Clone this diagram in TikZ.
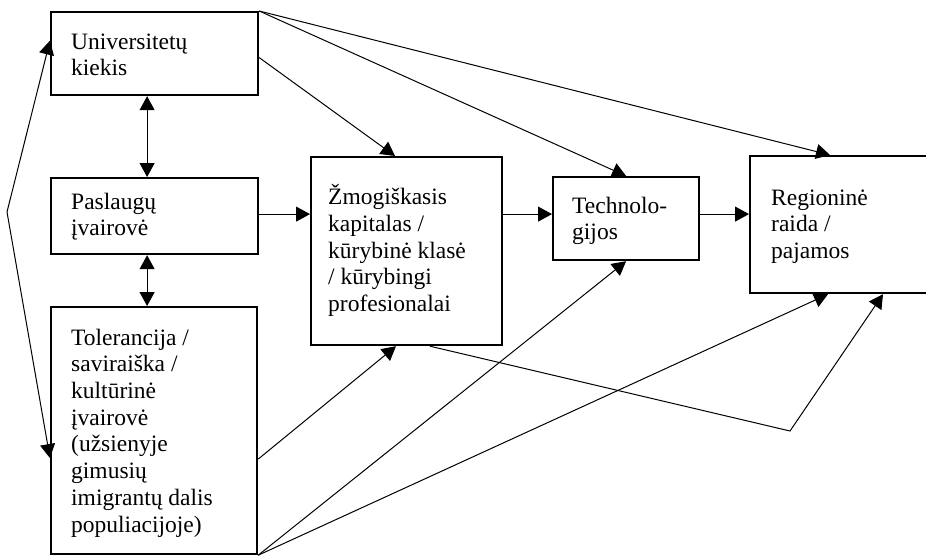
\documentclass[tikz,border=0pt]{standalone}
\usepackage{fontspec}
\setmainfont{Liberation Serif}
\usetikzlibrary{arrows.meta}
\tikzset{
  box/.style={draw, line width=2.2pt, inner sep=0pt, anchor=north west},
  txt/.style={inner sep=0pt, align=left, anchor=north west,
    font=\fontsize{23.5}{26.7}\selectfont},
  tip/.tip={Triangle[length=14pt,width=15pt]},
  arr/.style={line width=1pt, -tip},
  darr/.style={line width=1pt, tip-tip}
}
\begin{document}
\begin{tikzpicture}[x=1pt,y=-1pt]
\useasboundingbox (0,0) rectangle (926,555);
\clip (0,0) rectangle (926,555);
% boxes
\node[box, minimum width=207pt, minimum height=83pt] (b1) at (50,11) {};
\node[box, minimum width=207pt, minimum height=76pt] (b2) at (50,177) {};
\node[box, minimum width=206pt, minimum height=247pt] (b3) at (50,306) {};
\node[box, minimum width=191pt, minimum height=188pt] (b4) at (310,156) {};
\node[box, minimum width=146pt, minimum height=83pt] (b5) at (552,176) {};
\node[box, minimum width=200pt, minimum height=137pt] (b6) at (749,155) {};
% texts (first baseline = y + 18.7)
\node[txt] (t1) at (71,30.3) {\strut Universitetų\\kiekis};
\node[txt] (t2) at (71,190.3) {\strut Paslaugų\\įvairovė};
\node[txt] (t3) at (71,326.3) {\strut Tolerancija /\\saviraiška /\\kultūrinė\\įvairovė\\(užsienyje\\gimusių\\imigrantų dalis\\populiacijoje)};
\node[txt] (t4) at (328,184.3) {\strut Žmogiškasis\\kapitalas /\\kūrybinė klasė\\/ kūrybingi\\profesionalai};
\node[txt] (t5) at (572,194.3) {\strut Technolo-\\gijos};
\node[txt] (t6) at (771,186.3) {\strut Regioninė\\raida /\\pajamos};
% left bracket
\coordinate (L) at (7,212);
\draw[arr] (L) -- ([shift={(0,-13)}]b1.west);
\draw[arr] (L) -- ([shift={(0,27.5)}]b3.west);
% vertical double arrows
\draw[darr] ([shift={(-7.5,0)}]b1.south) -- ([shift={(-7.5,0)}]b2.north);
\draw[darr] ([shift={(-7.5,0)}]b2.south) -- ([shift={(-7,0)}]b3.north);
% horizontal chain
\draw[arr] ([shift={(0,-2)}]b2.east) coordinate (h) -- (h -| b4.west);
\draw[arr] (h -| b4.east) -- (h -| b5.west);
\draw[arr] (h -| b5.east) -- (h -| b6.west);
% from Universitetu kiekis
\draw[arr] (b1.north east) -- ([shift={(81,0)}]b6.north west);
\draw[arr] (b1.north east) -- (b5.north);
\draw[arr] ([shift={(0,4)}]b1.east) -- ([shift={(85,0)}]b4.north west);
% from Tolerancija
\draw[arr] ([shift={(0,28.5)}]b3.east) -- ([shift={(86,0)}]b4.south west);
\draw[arr] (b3.south east) -- (b5.south);
\draw[arr] (b3.south east) -- ([shift={(79,0)}]b6.south west);
% from Zmogiskasis to Regionine via kink
\coordinate (V) at (790,431);
\draw[arr] ([shift={(120,0)}]b4.south west) -- (V) -- ([shift={(134,0)}]b6.south west);
\end{tikzpicture}
\end{document}
